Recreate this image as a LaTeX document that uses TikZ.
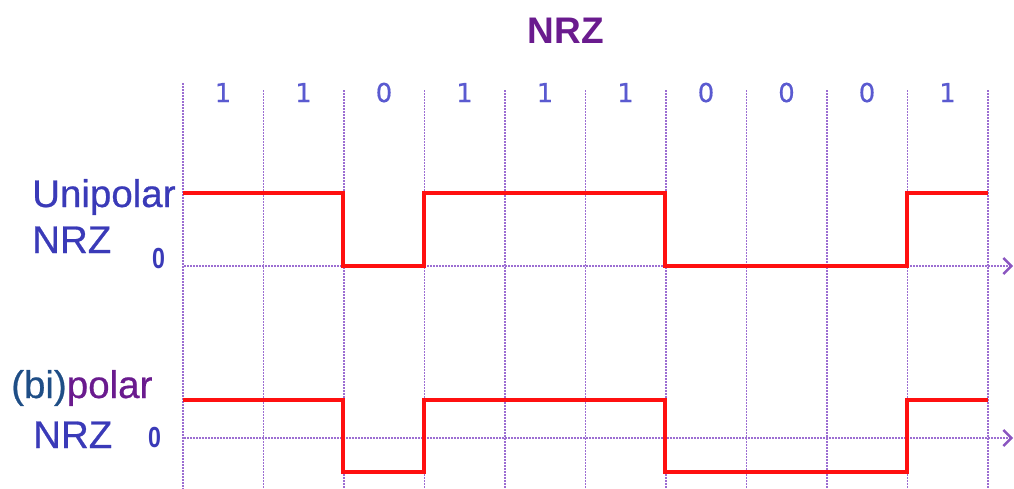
\documentclass[tikz,border=0pt]{standalone}
\usepackage{fontspec}
\usetikzlibrary{arrows.meta}
\newfontfamily\labfont[FakeBold=0.6]{Liberation Sans}
\newfontfamily\titlefont{Liberation Sans}
\newfontfamily\bitfont[FakeBold=0.5]{DejaVu Sans}
\newfontfamily\zerofont[FakeStretch=0.8]{Liberation Sans Bold}
\definecolor{titlepurple}{HTML}{6A1B8E}
\definecolor{labblue}{HTML}{3A3AB8}
\definecolor{bitblue}{HTML}{5A5AD0}
\definecolor{bidark}{HTML}{1F4E86}
\definecolor{gridpurple}{HTML}{9C6ED2}
\definecolor{arrowpurple}{HTML}{8A55C0}
\definecolor{sigred}{HTML}{FF1010}
\tikzset{
  txt/.style={inner sep=0pt, anchor=base west},
  gridline/.style={gridpurple, line width=1.9pt, dash pattern=on 1.5pt off 1.5pt},
  axisline/.style={gridline, -{Straight Barb[length=8pt,width=16pt,line width=2.4pt,color=arrowpurple]}},
  signal/.style={sigred, line width=3.2pt, line join=miter},
  bitlabel/.style={inner sep=0pt, anchor=base, text=bitblue, font=\bitfont\fontsize{26}{26}\selectfont},
  zerolabel/.style={inner sep=0pt, anchor=base west, text=labblue, font=\zerofont\fontsize{29}{29}\selectfont},
  biglabel/.style={txt, font=\labfont\fontsize{38.5}{38.5}\selectfont}
}
\begin{document}
\begin{tikzpicture}[x=1pt,y=-1pt]
  \useasboundingbox (0,0) rectangle (1014,488);

  % title
  \node[inner sep=0pt, anchor=base, text=titlepurple,
        font=\titlefont\bfseries\fontsize{37}{37}\selectfont] (title) at (566,43) {NRZ};

  % bit boundaries
  \foreach \i in {0,...,10} {
    \coordinate (t\i) at ({183+80.5*\i},90);
    \coordinate (b\i) at ({183+80.5*\i},490);
  }
  \coordinate (t0) at (183,83);
  \foreach \i in {0,...,10} \draw[gridline] (t\i) -- (b\i);

  % bit values
  \foreach \b [count=\k from 0] in {1,1,0,1,1,1,0,0,0,1}
    \node[bitlabel] (bit\k) at ({223+80.5*\k},102) {\b};

  % zero axes
  \coordinate (ua) at (184,266);
  \coordinate (ue) at (1013,266);
  \coordinate (ba) at (184,438);
  \coordinate (be) at (1013,438);
  \draw[axisline] (ua) -- (ue);
  \draw[axisline] (ba) -- (be);

  % unipolar NRZ
  \def\hi{193}\def\lo{266}
  \draw[signal] (183,\hi) -- (343,\hi) -- (343,\lo) -- (424,\lo) -- (424,\hi)
      -- (665,\hi) -- (665,\lo) -- (907,\lo) -- (907,\hi) -- (988,\hi);

  % polar NRZ
  \def\phi{400}\def\plo{472}
  \draw[signal] (183,\phi) -- (343,\phi) -- (343,\plo) -- (424,\plo) -- (424,\phi)
      -- (665,\phi) -- (665,\plo) -- (907,\plo) -- (907,\phi) -- (988,\phi);

  % left labels
  \node[biglabel, text=labblue] (uni) at (32,207) {Unipolar};
  \node[biglabel, text=labblue] (unrz) at (32,253) {NRZ};
  \node[zerolabel] (uzero) at (152,268) {0};

  \node[biglabel] (bip) at (11,398) {\textcolor{bidark}{(bi)}\textcolor{titlepurple}{polar}};
  \node[biglabel, text=labblue] (bnrz) at (33,448) {NRZ};
  \node[zerolabel] (bzero) at (148,447) {0};
\end{tikzpicture}
\end{document}
